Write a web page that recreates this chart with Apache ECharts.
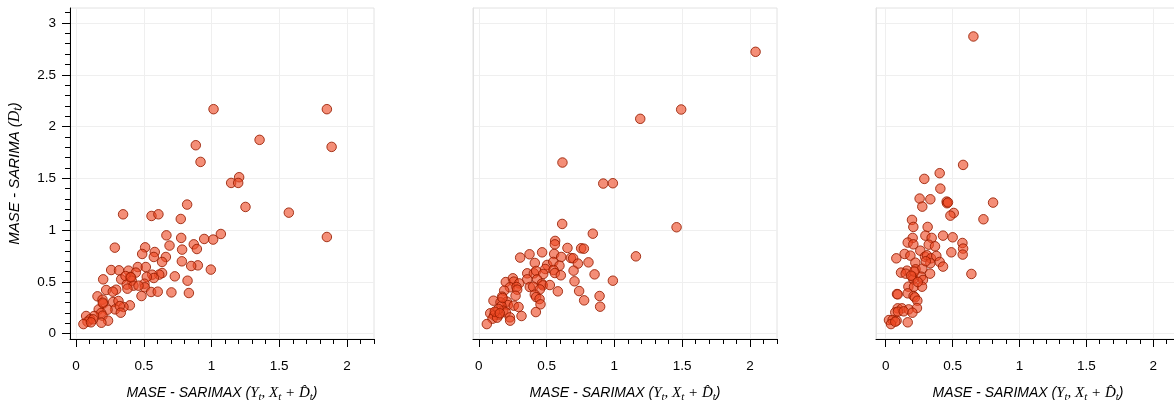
<!DOCTYPE html>
<html>
<head>
<meta charset="utf-8">
<script src="https://cdn.jsdelivr.net/npm/echarts@6/dist/echarts.min.js"></script>
<style>html,body{margin:0;padding:0;background:#fff}#c{width:1174px;height:405px}</style>
</head>
<body>
<div id="c"></div>
<script>
// ---- tick labels / tick ranges ----
const xMajorTicks = [0, 0.5, 1, 1.5, 2];
const yMajorTicks = [0, 0.5, 1, 1.5, 2, 2.5, 3];
const xMinorStep = 0.1, xMinorLast = 2.2;
const yMinorStep = 0.1, yMinorLast = 3.1;

// ---- panel 1 ----
const p1x = [1.015,1.852,1.355,1.887,0.884,0.919,1.204,1.145,1.197,1.251,1.571,0.820,0.347,0.557,0.608,0.773,1.852,1.069,1.012,0.946,0.776,0.667,0.869,0.690,0.892,0.783,0.510,0.286,0.581,0.488,0.574,0.663,0.781,0.635,0.899,0.850,0.995,0.456,0.515,0.259,0.317,0.387,0.200,0.441,0.729,0.635,0.614,0.562,0.574,0.522,0.399,0.333,0.365,0.411,0.823,0.374,0.424,0.505,0.379,0.507,0.461,0.554,0.603,0.704,0.833,0.483,0.222,0.296,0.271,0.158,0.195,0.273,0.313,0.397,0.200,0.288,0.350,0.323,0.330,0.167,0.232,0.185,0.195,0.133,0.074,0.103,0.084,0.126,0.236,0.187,0.054,0.110,0.197,0.405];
const p1y = [2.168,2.168,1.872,1.804,1.820,1.659,1.511,1.456,1.456,1.224,1.169,1.247,1.153,1.137,1.153,1.108,0.934,0.963,0.909,0.915,0.925,0.950,0.863,0.851,0.818,0.812,0.834,0.831,0.789,0.770,0.741,0.741,0.699,0.693,0.660,0.654,0.619,0.644,0.644,0.615,0.612,0.609,0.525,0.590,0.554,0.586,0.571,0.570,0.538,0.548,0.548,0.525,0.557,0.512,0.512,0.474,0.464,0.483,0.435,0.448,0.464,0.403,0.406,0.399,0.393,0.364,0.422,0.425,0.406,0.361,0.329,0.306,0.316,0.274,0.290,0.235,0.258,0.267,0.203,0.235,0.232,0.200,0.174,0.171,0.171,0.139,0.116,0.139,0.126,0.106,0.093,0.110,0.300,0.545];

// ---- panel 2 ----
const p2x = [2.042,1.493,1.191,0.617,0.918,0.989,0.615,1.459,0.841,1.159,0.989,0.563,0.561,0.654,0.755,0.775,0.467,0.374,0.305,0.556,0.608,0.679,0.696,0.731,0.809,0.413,0.504,0.549,0.595,0.699,0.854,0.490,0.357,0.406,0.423,0.551,0.561,0.475,0.605,0.430,0.357,0.199,0.251,0.258,0.298,0.706,0.465,0.472,0.524,0.376,0.401,0.450,0.229,0.278,0.283,0.187,0.172,0.271,0.413,0.423,0.583,0.740,0.891,0.777,0.895,0.448,0.455,0.108,0.207,0.214,0.160,0.167,0.258,0.293,0.180,0.199,0.123,0.148,0.084,0.113,0.101,0.135,0.229,0.231,0.315,0.421,0.059,0.145,0.118,0.155,0.175];
const p2y = [2.722,2.165,2.075,1.653,1.450,1.453,1.060,1.028,0.966,0.747,0.512,0.896,0.863,0.828,0.825,0.821,0.786,0.767,0.735,0.770,0.741,0.731,0.728,0.677,0.689,0.683,0.664,0.693,0.657,0.609,0.573,0.625,0.583,0.583,0.606,0.615,0.586,0.577,0.564,0.525,0.525,0.499,0.535,0.503,0.486,0.506,0.483,0.467,0.470,0.451,0.454,0.428,0.448,0.451,0.425,0.416,0.358,0.367,0.377,0.354,0.409,0.412,0.364,0.322,0.261,0.335,0.284,0.319,0.309,0.277,0.303,0.267,0.271,0.258,0.222,0.206,0.206,0.180,0.197,0.177,0.145,0.155,0.158,0.126,0.171,0.209,0.093,0.239,0.213,0.197,0.345];

// ---- panel 3 ----
const p3x = [0.656,0.579,0.404,0.289,0.409,0.254,0.334,0.274,0.456,0.459,0.466,0.803,0.509,0.484,0.731,0.197,0.207,0.314,0.297,0.344,0.429,0.501,0.202,0.165,0.207,0.322,0.369,0.574,0.579,0.576,0.491,0.259,0.142,0.185,0.080,0.294,0.309,0.339,0.379,0.222,0.334,0.404,0.429,0.224,0.274,0.160,0.115,0.150,0.332,0.641,0.202,0.207,0.264,0.279,0.170,0.212,0.272,0.085,0.090,0.165,0.209,0.219,0.237,0.090,0.122,0.172,0.234,0.072,0.092,0.135,0.200,0.025,0.052,0.082,0.040,0.072,0.165,0.300,0.240,0.215,0.190];
const p3y = [2.870,1.630,1.550,1.495,1.401,1.305,1.298,1.227,1.276,1.260,1.268,1.266,1.166,1.140,1.105,1.099,1.031,1.031,0.947,0.925,0.947,0.931,0.925,0.880,0.863,0.860,0.844,0.876,0.822,0.764,0.786,0.802,0.770,0.754,0.728,0.744,0.757,0.728,0.751,0.686,0.680,0.693,0.648,0.622,0.628,0.609,0.590,0.580,0.580,0.577,0.551,0.525,0.551,0.519,0.454,0.454,0.454,0.383,0.380,0.390,0.364,0.351,0.319,0.245,0.245,0.235,0.248,0.206,0.213,0.216,0.203,0.132,0.132,0.126,0.093,0.116,0.110,0.700,0.500,0.600,0.560];

const xName = '{n|MASE - SARIMAX (}{m|Y}{s|t}{m|, X}{s|t}{m| + D\u0302}{s|t}{n|)}';
const yName = '{n|MASE - SARIMA (}{m|D}{s|t}{n|)}';

const SANS = '"Liberation Sans", Arial, Helvetica, sans-serif';
const SERIF = '"Liberation Serif", "Times New Roman", serif';
function richFor(size) {
  return {
    n: {fontFamily: SANS, fontStyle: 'italic', fontSize: size, color: '#000', lineHeight: 19},
    m: {fontFamily: SERIF, fontStyle: 'italic', fontSize: size + 1, color: '#000', lineHeight: 19},
    s: {fontFamily: SERIF, fontStyle: 'italic', fontSize: size - 3, color: '#000', lineHeight: 10, verticalAlign: 'bottom'}
  };
}

const panels = [
  {xs: p1x, ys: p1y, left: 70, xMin: -0.045, showY: true},
  {xs: p2x, ys: p2y, left: 473, xMin: -0.043, showY: false},
  {xs: p3x, ys: p3y, left: 876, xMin: -0.072, showY: false}
];
const X_MAX = 2.2, Y_MIN = -0.051, Y_MAX = 3.145;
const GRID_TOP = 8, GRID_W = 304, GRID_H = 331;
const SPLIT = '#efefef', FRAME = '#e2e2e2';
const MINOR_COLOR = '#000', MINOR_LEN = 5;
const lastX = xMajorTicks[xMajorTicks.length - 1];
const lastY = yMajorTicks[yMajorTicks.length - 1];

const grids = [], xAxes = [], yAxes = [], series = [];
const hiddenAxis = (gi) => ({show: false, type: 'value', gridIndex: gi, min: 0, max: 1});

function addGrid(g) { grids.push(Object.assign({show: false, containLabel: false, outerBoundsMode: 'none'}, g)); return grids.length - 1; }

panels.forEach((p) => {
  const pxOf = v => p.left + (v - p.xMin) / (X_MAX - p.xMin) * GRID_W;
  const pyOf = v => GRID_TOP + (Y_MAX - v) / (Y_MAX - Y_MIN) * GRID_H;

  // horizontal grid lines + y major ticks/labels
  const gYM = addGrid({left: p.left, width: GRID_W, top: pyOf(lastY), height: pyOf(0) - pyOf(lastY)});
  xAxes.push(hiddenAxis(gYM));
  yAxes.push({type: 'value', gridIndex: gYM, min: 0, max: lastY, interval: 0.5, position: 'left',
    axisLine: {show: false, onZero: false},
    axisTick: {show: p.showY, length: 8, lineStyle: {color: '#000', width: 1}},
    axisLabel: {show: p.showY, margin: 14, fontSize: 13.5, color: '#000', fontFamily: SANS},
    splitLine: {show: true, lineStyle: {color: SPLIT, width: 1}}});

  // vertical grid lines + x major ticks/labels
  const gXM = addGrid({left: pxOf(0), width: pxOf(lastX) - pxOf(0), top: GRID_TOP, height: GRID_H});
  yAxes.push(hiddenAxis(gXM));
  xAxes.push({type: 'value', gridIndex: gXM, min: 0, max: lastX, interval: 0.5, position: 'bottom',
    axisLine: {show: false, onZero: false},
    axisTick: {show: true, length: 8, lineStyle: {color: '#000', width: 1}},
    axisLabel: {show: true, margin: 20, fontSize: 13.5, color: '#000', fontFamily: SANS},
    splitLine: {show: true, lineStyle: {color: SPLIT, width: 1}}});

  // x minor ticks
  const gXm = addGrid({left: pxOf(0), width: pxOf(xMinorLast) - pxOf(0), top: GRID_TOP, height: GRID_H});
  yAxes.push(hiddenAxis(gXm));
  xAxes.push({type: 'value', gridIndex: gXm, min: 0, max: xMinorLast, interval: xMinorStep, position: 'bottom',
    axisLine: {show: false, onZero: false},
    axisTick: {show: true, length: MINOR_LEN, lineStyle: {color: MINOR_COLOR, width: 1}},
    axisLabel: {show: false}, splitLine: {show: false}});

  // y minor ticks
  if (p.showY) {
    const gYm = addGrid({left: p.left, width: GRID_W, top: pyOf(yMinorLast), height: pyOf(0) - pyOf(yMinorLast)});
    xAxes.push(hiddenAxis(gYm));
    yAxes.push({type: 'value', gridIndex: gYm, min: 0, max: yMinorLast, interval: yMinorStep, position: 'left',
      axisLine: {show: false, onZero: false},
      axisTick: {show: true, length: MINOR_LEN, lineStyle: {color: MINOR_COLOR, width: 1}},
      axisLabel: {show: false}, splitLine: {show: false}});
  }

  // data grid with frame, axis lines and names
  const gD = addGrid({left: p.left, top: GRID_TOP, width: GRID_W, height: GRID_H, show: true,
    borderColor: FRAME, borderWidth: 1, backgroundColor: 'transparent'});
  const xi = xAxes.length;
  xAxes.push({type: 'value', gridIndex: gD, min: p.xMin, max: X_MAX, position: 'bottom',
    axisLine: {show: true, onZero: false, lineStyle: {color: '#000', width: 1}},
    axisTick: {show: false}, axisLabel: {show: false}, splitLine: {show: false},
    name: xName, nameLocation: 'middle', nameGap: 45, nameMoveOverlap: false,
    nameTextStyle: {rich: richFor(14)}});
  const yi = yAxes.length;
  yAxes.push({type: 'value', gridIndex: gD, min: Y_MIN, max: Y_MAX, position: 'left',
    axisLine: {show: true, onZero: false, lineStyle: {color: p.showY ? '#000' : FRAME, width: 1}},
    axisTick: {show: false}, axisLabel: {show: false}, splitLine: {show: false},
    name: p.showY ? yName : '', nameLocation: 'middle', nameGap: 46, nameRotate: 90, nameMoveOverlap: false,
    nameTextStyle: {rich: richFor(15)}});

  series.push({
    type: 'scatter', xAxisIndex: xi, yAxisIndex: yi,
    data: p.xs.map((x, j) => [x, p.ys[j]]),
    symbol: 'circle', symbolSize: 9.5, clip: false,
    itemStyle: {color: 'rgba(238,72,36,0.62)', borderColor: 'rgba(150,28,0,0.85)', borderWidth: 1, opacity: 1},
    emphasis: {disabled: true}, silent: true
  });
});

const chart = echarts.init(document.getElementById('c'), null, {renderer: 'canvas'});
chart.setOption({
  animation: false, backgroundColor: '#fff',
  grid: grids, xAxis: xAxes, yAxis: yAxes, series: series, tooltip: {show: false}
});
</script>
</body>
</html>
